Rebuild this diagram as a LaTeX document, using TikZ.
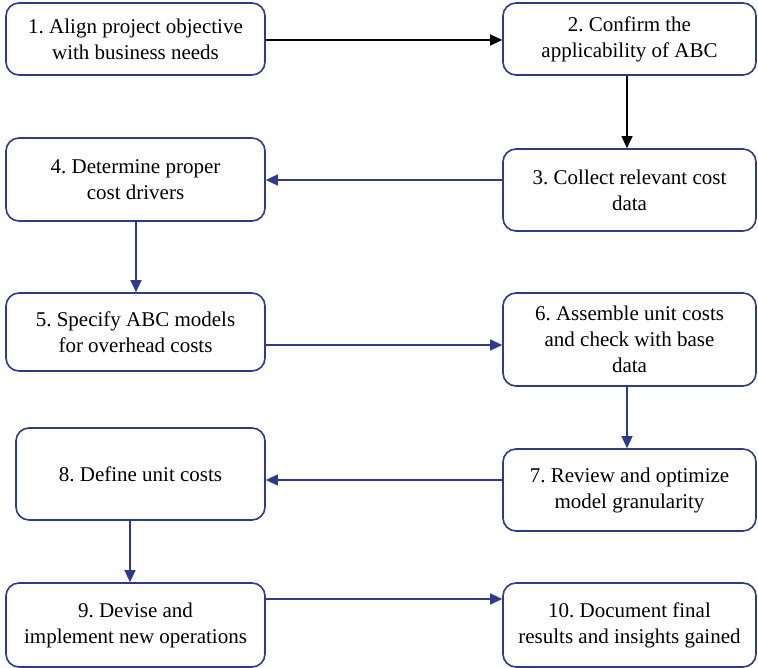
\documentclass[tikz,border=0pt]{standalone}
\usepackage{fontspec}
\setmainfont{Liberation Serif}
\usetikzlibrary{arrows.meta}
\definecolor{frameblue}{HTML}{2E3A92}
\frenchspacing
\tikzset{
  stepbox/.style={draw=frameblue, line width=1.6pt, rounded corners=13pt, fill=white,
    align=center, inner sep=0pt, font=\fontsize{21}{26}\selectfont},
  flow/.style={-{Triangle[width=11pt,length=12pt]}, line width=1.2pt, draw=frameblue, fill=frameblue},
  flowdark/.style={-{Triangle[width=11pt,length=12pt]}, line width=1.2pt, draw=black, fill=black}
}
\newcommand{\boxat}[6]{% name, left, top, right, bottom, text
  \node[stepbox, minimum width=#4pt-#2pt, minimum height=#5pt-#3pt] (#1) at ({(#2+#4)/2},{(#3+#5)/2}) {#6};}
\begin{document}
\begin{tikzpicture}[x=1pt, y=-1pt]
\useasboundingbox (0,0) rectangle (758,668);
\boxat{b1}{6}{3}{265}{75}{1. Align project objective\\with business needs}
\boxat{b2}{503}{3}{756}{75}{2. Confirm the\\applicability of ABC}
\boxat{b3}{503}{149}{756}{231}{3. Collect relevant cost\\data}
\boxat{b4}{6}{138}{265}{221}{4. Determine proper\\cost drivers}
\boxat{b5}{6}{293}{265}{371}{5. Specify ABC models\\for overhead costs}
\boxat{b6}{503}{293}{756}{386}{6. Assemble unit costs\\and check with base\\data}
\boxat{b7}{503}{449}{756}{531}{7. Review and optimize\\model granularity}
\boxat{b8}{16}{428}{265}{520}{8. Define unit costs}
\boxat{b9}{6}{583}{265}{667}{9. Devise and\\implement new operations}
\boxat{b10}{503}{583}{756}{667}{10. Document final\\results and insights gained}

\draw[flowdark] ([yshift=-1pt]b1.east) -- ([yshift=-1pt]b2.west);
\draw[flowdark] ([xshift=-2.5pt]b2.south) -- ([xshift=-2.5pt]b3.north);
\draw[flow] ([yshift=10pt]b3.west) -- ([yshift=-0.5pt]b4.east);
\draw[flow] ([xshift=0.5pt]b4.south) -- ([xshift=0.5pt]b5.north);
\draw[flow] ([yshift=-13pt]b5.east) -- ([yshift=-5.5pt]b6.west);
\draw[flow] ([xshift=-2.5pt]b6.south) -- ([xshift=-2.5pt]b7.north);
\draw[flow] ([yshift=10pt]b7.west) -- ([yshift=-6pt]b8.east);
\draw[flow] ([xshift=-10.5pt]b8.south) -- ([xshift=-5.5pt]b9.north);
\draw[flow] ([yshift=26pt]b9.east) -- ([yshift=26pt]b10.west);
\end{tikzpicture}
\end{document}
